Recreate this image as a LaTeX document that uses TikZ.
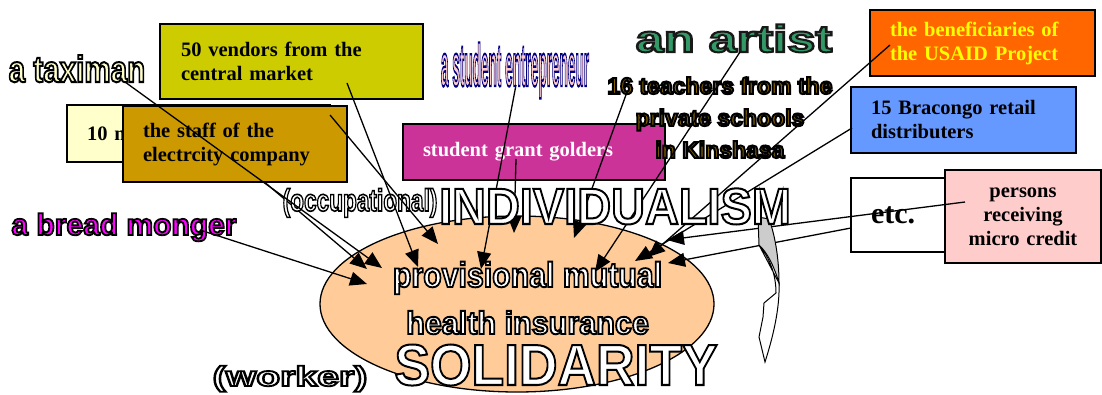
\documentclass[tikz,border=0pt]{standalone}
\usepackage{fontspec}
\setmainfont{Liberation Serif}
\setsansfont{Liberation Sans}
\usepackage{graphicx}
\usetikzlibrary{arrows.meta,shapes.geometric}
\definecolor{cVend}{HTML}{CCCC00}
\definecolor{cTen}{HTML}{FFFFCC}
\definecolor{cStaff}{HTML}{CC9900}
\definecolor{cGrant}{HTML}{CC3399}
\definecolor{cUsaid}{HTML}{FF6600}
\definecolor{cBra}{HTML}{6699FF}
\definecolor{cPers}{HTML}{FFCCCC}
\definecolor{cEll}{HTML}{FFCC99}
\definecolor{cMag}{HTML}{FF00FF}
\definecolor{cGreen}{HTML}{339966}
\definecolor{cBrown}{HTML}{806000}
\definecolor{cPinkT}{HTML}{FFCCCC}
\definecolor{cTaxi}{HTML}{FFFFCC}
\definecolor{cYel}{HTML}{FFFF00}
\definecolor{cGrey}{HTML}{CCCCCC}
% outlined text: #1 stroke settings, #2 fill colour, #3 xscale, #4 yscale, #5 size, #6 text
\newcommand\olt[6]{\scalebox{#3}[#4]{\fontsize{#5}{#5}\selectfont\color{#2}\special{pdf:literal direct 2 Tr #1}#6\special{pdf:literal direct 0 Tr}}}
\tikzset{
  box/.style={draw=black, line width=1.4pt, inner sep=0pt, align=left,
    font=\rmfamily\bfseries\fontsize{20.5}{24}\selectfont},
  otext/.style={inner sep=0pt, anchor=base, font=\sffamily\bfseries},
  arr/.style={line width=1.3pt, -{Triangle[length=17pt,width=14pt]}},
}
\begin{document}
\begin{tikzpicture}[x=1pt,y=-1pt]
\useasboundingbox (0,0) rectangle (1102,395);
\fill[white] (0,0) rectangle (1102,395);

% central ellipse
\node[ellipse, draw=black, line width=1.3pt, fill=cEll, minimum width=394pt,
  minimum height=176pt, inner sep=0pt] (ell) at (517,304) {};

% boxes (10 m box and its hidden connector first)
\node[box, fill=cTen, minimum width=263, minimum height=57, text width=223] (ten) at (198.5,133.5) {10 m};
\coordinate (ten-s) at (203,130);
\coordinate (ten-e) at (367,269);
\draw[arr] (ten-s) -- (ten-e);

\node[box, fill=cVend, minimum width=263, minimum height=75, text width=221] (vend) at (291.5,61.5) {50 vendors from the\\central market};
\node[box, fill=cStaff, minimum width=224, minimum height=76, text width=184] (staff) at (235,144) {the staff of the\\electrcity company};
\node[box, fill=cGrant, text=white, minimum width=262, minimum height=56, text width=222] (grant) at (534,152) {student grant golders};
\node[box, fill=cUsaid, text=cYel, minimum width=225, minimum height=66, text width=185] (usaid) at (982.5,43) {the beneficiaries of\\the USAID Project};
\node[box, fill=cBra, minimum width=225, minimum height=66, text width=185] (bra) at (963.5,120) {15 Bracongo retail\\distributers};
\node[box, fill=white, minimum width=94, minimum height=74, text width=54,
  font=\rmfamily\bfseries\fontsize{30}{32}\selectfont] (etc) at (898,215) {etc.};
\node[box, fill=cPers, align=center, minimum width=156, minimum height=93, text width=140] (pers) at (1023,216.5) {persons\\receiving\\micro credit};

% free texts (under the connectors)
\node[otext] (taxi) at (77,82) {\olt{2 w 0 0 0 RG}{cTaxi}{0.8}{1}{37}{a taximan}};
\node[otext] (bread) at (124,235) {\olt{1.8 w 0 0 0 RG}{cMag}{1.0}{1}{30}{a bread monger}};
\node[otext] (entre) at (515,86) {\olt{1.6 w 0 0 0.5 RG}{cPinkT}{0.34}{1.5}{40}{a student entrepreneur}};
\node[otext] (artist) at (734,52) {\olt{2 w 0.1 0.1 0.1 RG}{cGreen}{1.33}{1}{38}{an artist}};
\node[otext, anchor=north, align=center, font=\sffamily\bfseries\fontsize{23}{32}\selectfont] (teach) at (720,77)
  {\olt{2 w 0 0 0 RG}{cBrown}{1}{1}{23}{16 teachers from the}\\
   \olt{2 w 0 0 0 RG}{cBrown}{1}{1}{23}{private schools}\\
   \olt{2 w 0 0 0 RG}{cBrown}{1}{1}{23}{in Kinshasa}};
\node[otext] (occ) at (360,211) {\olt{1.6 w 0 0 0 RG}{white}{0.73}{1}{31}{(occupational)}};

% connectors
\coordinate (taxi-s) at (125,82);   \coordinate (taxi-e) at (382,268);
\coordinate (bread-s) at (200,230); \coordinate (bread-e) at (367,284);
\coordinate (vend-s) at (347,83);   \coordinate (vend-e) at (418,267);
\coordinate (staff-s) at (330,115); \coordinate (staff-e) at (438,244);
\coordinate (entre-s) at (516,85);  \coordinate (entre-e) at (481,269);
\coordinate (grant-s) at (516,159); \coordinate (grant-e) at (514,233);
\coordinate (teach-s) at (627,92);  \coordinate (teach-e) at (574,238);
\coordinate (artist-s) at (740,52); \coordinate (artist-e) at (595,272);
\coordinate (usaid-s) at (890,45);  \coordinate (usaid-e) at (648,257);
\coordinate (bra-s) at (852,128);   \coordinate (bra-e) at (635,261);
\coordinate (pers-s) at (965,202);  \coordinate (pers-e) at (667,240);
\coordinate (etc-s) at (851,228);   \coordinate (etc-e) at (668,263);
\foreach \n in {taxi,bread,vend,staff,entre,grant,teach,artist,usaid,bra,pers,etc}
  \draw[arr] (\n-s) -- (\n-e);

% curved grey arrow
\filldraw[fill=white, draw=black, line width=1pt]
  (759,245) .. controls (770,258) and (776,275) .. (776,293)
  -- (764,303) -- (763,317) -- (759,337) -- (765,362)
  .. controls (772,340) and (780,310) .. (779,283) -- cycle;
\filldraw[fill=cGrey, draw=black, line width=1pt]
  (758,217) -- (769,219) .. controls (776,238) and (779,262) .. (779,283)
  .. controls (774,266) and (767,252) .. (759,245) -- cycle;

% big outlined texts
\node[otext] (indiv) at (615,224) {\olt{2 w 0 0 0 RG}{white}{0.92}{1}{51}{INDIVIDUALISM}};
\node[otext] (prov) at (527.5,287) {\olt{1.9 w 0 0 0 RG}{white}{0.865}{1}{35}{provisional mutual}};
\node[otext] (health) at (527.5,334) {\olt{1.9 w 0 0 0 RG}{white}{0.955}{1}{32}{health insurance}};
\node[otext] (solid) at (556,385) {\olt{2 w 0 0 0 RG}{white}{0.92}{1}{58}{SOLIDARITY}};
\node[otext] (worker) at (290,386) {\olt{1.8 w 0 0 0 RG}{white}{1.4}{1}{28}{(worker)}};
\end{tikzpicture}
\end{document}
